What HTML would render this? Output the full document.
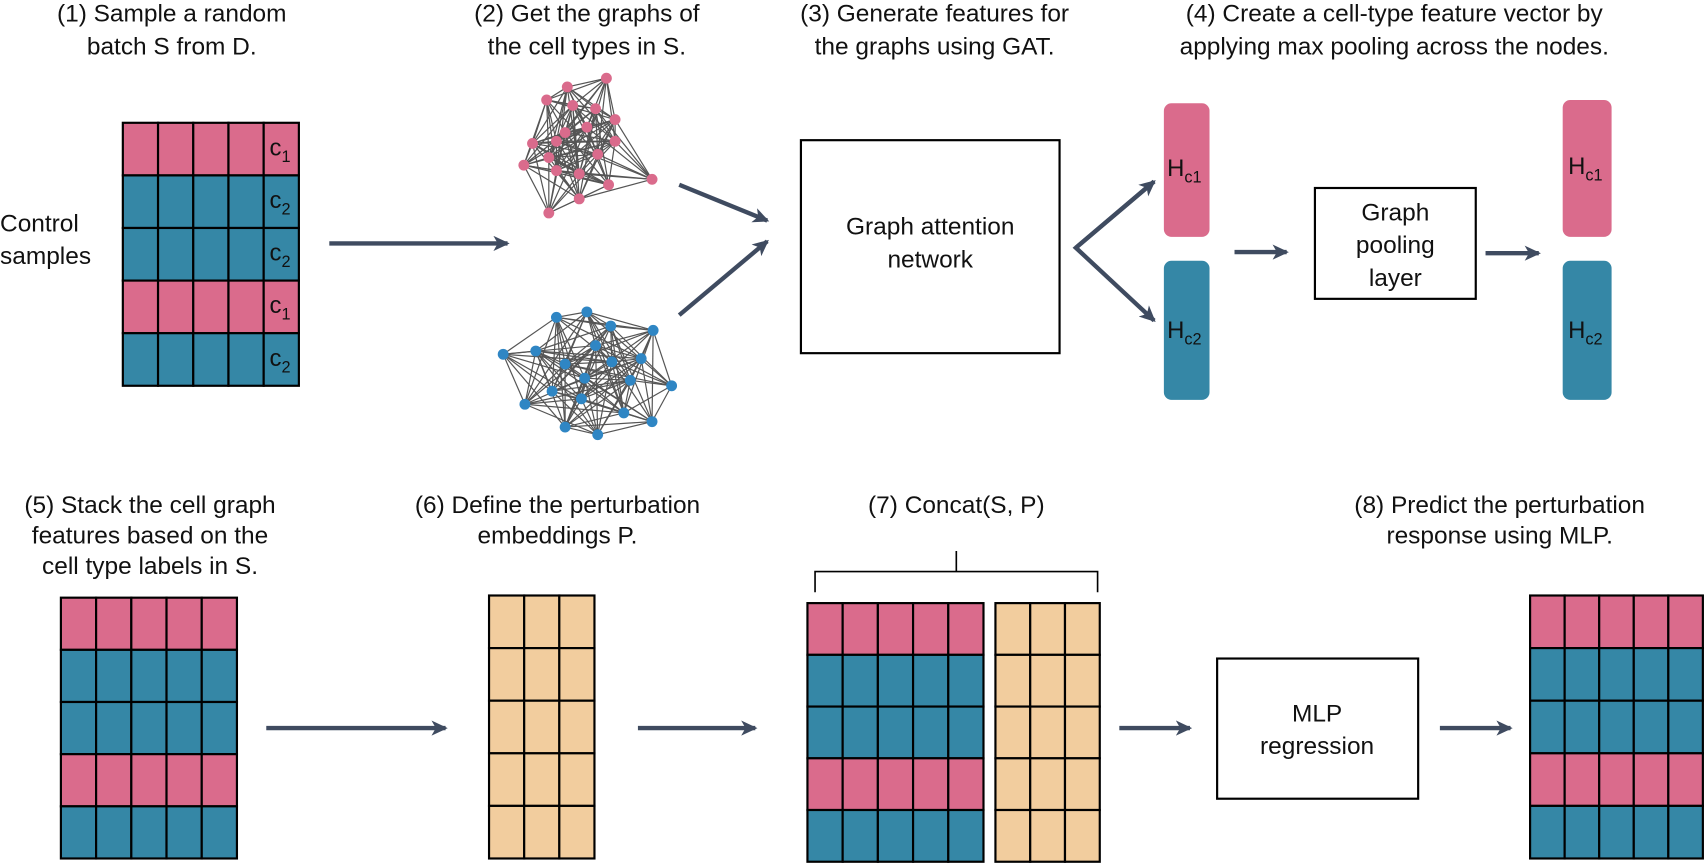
<!DOCTYPE html>
<html><head><meta charset="utf-8"><style>
html,body{margin:0;padding:0;background:#fff;}
svg{display:block;}
text{font-family:"Liberation Sans",sans-serif;fill:#111;}
</style></head><body>
<svg id="s" width="1704" height="865" viewBox="0 0 1568 796" xmlns="http://www.w3.org/2000/svg">
<defs>
<marker id="ah" markerWidth="16" markerHeight="14" refX="13" refY="7" orient="auto" markerUnits="userSpaceOnUse">
<path d="M0,0 L15,7 L0,14 L4,7 Z" fill="#3F4B60"/></marker>
</defs>
<g font-size="22.5" text-anchor="middle">
<text x="158" y="20">(1) Sample a random</text><text x="158" y="50">batch S from D.</text>
<text x="540" y="20">(2) Get the graphs of</text><text x="540" y="50">the cell types in S.</text>
<text x="860" y="20">(3) Generate features for</text><text x="860" y="50">the graphs using GAT.</text>
<text x="1283" y="20">(4) Create a cell-type feature vector by</text><text x="1283" y="50">applying max pooling across the nodes.</text>
<text x="138" y="472">(5) Stack the cell graph</text><text x="138" y="500">features based on the</text><text x="138" y="528">cell type labels in S.</text>
<text x="513" y="472">(6) Define the perturbation</text><text x="513" y="500">embeddings P.</text>
<text x="880" y="472">(7) Concat(S, P)</text>
<text x="1380" y="472">(8) Predict the perturbation</text><text x="1380" y="500">response using MLP.</text>
<text x="856" y="216">Graph attention</text><text x="856" y="246">network</text>
<text x="1284" y="203">Graph</text><text x="1284" y="233">pooling</text><text x="1284" y="263">layer</text>
<text x="1212" y="664">MLP</text><text x="1212" y="694">regression</text>
</g>
<g font-size="22.5"><text x="0" y="213">Control</text><text x="0" y="243">samples</text></g>
<g id="grids"></g>
<g id="graphs" stroke="#555" stroke-width="1.1"></g>
<g stroke="#000" stroke-width="2" fill="none">
<rect x="737" y="129" width="238" height="196"/>
<rect x="1210" y="173" width="148" height="102"/>
<rect x="1120" y="606" width="185" height="129"/>
<path d="M750,545 V526 H1010 V545 M880,526 V507" stroke-width="1.5"/>
</g>
<g stroke="#3F4B60" stroke-width="4" fill="none" marker-end="url(#ah)">
<line x1="303" y1="224" x2="467" y2="224"/>
<line x1="625" y1="170" x2="706" y2="203"/>
<line x1="625" y1="290" x2="706" y2="222"/>
<path d="M1062,167 L990,228 L1062,295"/>
<path d="M990,228 L1062,167"/>
<line x1="1136" y1="232" x2="1184" y2="232"/>
<line x1="1367" y1="233" x2="1416" y2="233"/>
<line x1="245" y1="670" x2="410" y2="670"/>
<line x1="587" y1="670" x2="695" y2="670"/>
<line x1="1030" y1="670" x2="1095" y2="670"/>
<line x1="1325" y1="670" x2="1390" y2="670"/>
</g>
<rect x="1071" y="95" width="42" height="123" rx="7" fill="#DA6B8C"/>
<rect x="1071" y="240" width="42" height="128" rx="7" fill="#3587A6"/>
<rect x="1438" y="92" width="45" height="126" rx="7" fill="#DA6B8C"/>
<rect x="1438" y="240" width="45" height="128" rx="7" fill="#3587A6"/>
<g font-size="22">
<text x="1074" y="162">H<tspan font-size="15" dy="6">c1</tspan></text>
<text x="1074" y="311">H<tspan font-size="15" dy="6">c2</tspan></text>
<text x="1443" y="160">H<tspan font-size="15" dy="6">c1</tspan></text>
<text x="1443" y="311">H<tspan font-size="15" dy="6">c2</tspan></text>
</g>
<g id="labels" font-size="22"></g>
</svg>
<script>
var NS="http://www.w3.org/2000/svg",P="#DA6B8C",T="#3587A6",O="#F2CD9E";
function el(t,a,p){var e=document.createElementNS(NS,t);for(var k in a)e.setAttribute(k,a[k]);p.appendChild(e);return e;}
var G=document.getElementById("grids");
function g2(x,y,w,h,cols,colors){var rows=colors.length,cw=w/cols,rh=h/rows;
 for(var r=0;r<rows;r++)for(var c=0;c<cols;c++)el("rect",{x:x+c*cw,y:y+r*rh,width:cw,height:rh,fill:colors[r],stroke:"#000","stroke-width":2},G);}
var pat=[P,T,T,P,T];
g2(113,113,162,242,5,pat);
g2(56,550,162,240,5,pat);
g2(450,548,97,242,3,[O,O,O,O,O]);
g2(743,555,162,238,5,pat);
g2(916,555,96,238,3,[O,O,O,O,O]);
g2(1408,548,159,242,5,pat);
var L=document.getElementById("labels"),lab=["1","2","2","1","2"];
for(var i=0;i<5;i++){var t=el("text",{x:248,y:113+i*48.4+30},L);t.textContent="c";var s=el("tspan",{"font-size":"15",dy:"6"},t);s.textContent=lab[i];}
var pk=[[558,72],[522,80],[503,92],[527,97],[548,100],[566,110],[540,117],[520,122],[490,132],[512,130],[566,130],[482,152],[505,145],[550,142],[533,160],[560,170],[512,157],[600,165],[533,183],[505,196]];
var bl=[[512,292],[540,287],[601,304],[463,326],[493,323],[520,335],[563,333],[538,348],[580,350],[618,355],[483,372],[535,367],[548,318],[574,380],[520,393],[550,400],[600,388],[562,300],[508,360],[590,330]];
var GR=document.getElementById("graphs");
function graph(n,col,th){var m=n.length;for(var i=0;i<m;i++)for(var j=i+1;j<m;j++){
 var dx=n[i][0]-n[j][0],dy=n[i][1]-n[j][1];if(dx*dx+dy*dy<th*th&&((i*7+j*3)%4!=0))
 el("line",{x1:n[i][0],y1:n[i][1],x2:n[j][0],y2:n[j][1]},GR);}
 for(var i=0;i<m;i++)el("circle",{cx:n[i][0],cy:n[i][1],r:5,fill:col,stroke:"none"},GR);}
graph(pk,"#DA6B8C",95);graph(bl,"#2F86C4",105);
</script>
</body></html>
